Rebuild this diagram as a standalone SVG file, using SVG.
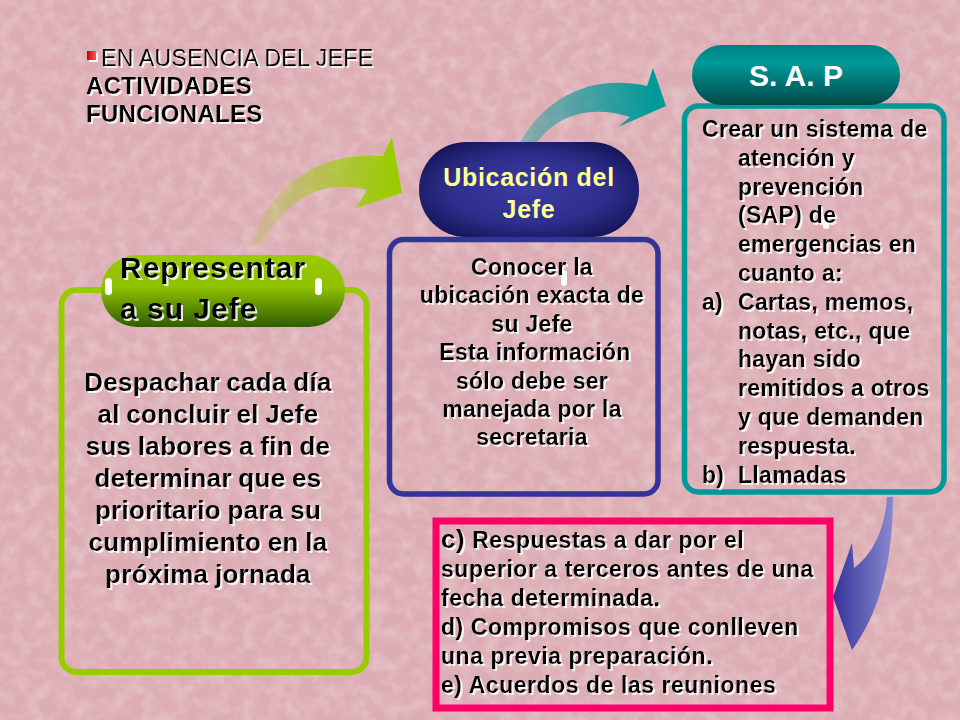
<svg xmlns="http://www.w3.org/2000/svg" width="960" height="720" viewBox="0 0 960 720">
<defs>
  <filter id="tex" x="0" y="0" width="100%" height="100%">
    <feTurbulence type="fractalNoise" baseFrequency="0.07" numOctaves="4" seed="7" result="n"/>
    <feColorMatrix in="n" type="matrix" values="0 0 0 0 1  0 0 0 0 0.95  0 0 0 0 0.96  1.4 0 0 0 -0.55"/>
  </filter>
  <filter id="sh" x="-5%" y="-10%" width="115%" height="130%">
    <feOffset in="SourceAlpha" dx="1.5" dy="1.5" result="o"/>
    <feFlood flood-color="#ffffff" flood-opacity="0.85"/>
    <feComposite in2="o" operator="in" result="s"/>
    <feMerge><feMergeNode in="s"/><feMergeNode in="SourceGraphic"/></feMerge>
  </filter>
  <linearGradient id="gPill" x1="0" y1="0" x2="0" y2="1">
    <stop offset="0" stop-color="#99cc00"/>
    <stop offset="0.45" stop-color="#8fc000"/>
    <stop offset="1" stop-color="#2f5c00"/>
  </linearGradient>
  <radialGradient id="nPill" cx="0.5" cy="0.5" r="0.6">
    <stop offset="0" stop-color="#3c3ca2"/>
    <stop offset="0.6" stop-color="#2e2e8c"/>
    <stop offset="1" stop-color="#141458"/>
  </radialGradient>
  <linearGradient id="tPill" x1="0" y1="0" x2="0" y2="1">
    <stop offset="0" stop-color="#007f7f"/>
    <stop offset="0.3" stop-color="#009999"/>
    <stop offset="1" stop-color="#004848"/>
  </linearGradient>
  <linearGradient id="gArr" gradientUnits="userSpaceOnUse" x1="250" y1="0" x2="395" y2="0">
    <stop offset="0" stop-color="#99cc00" stop-opacity="0.1"/>
    <stop offset="1" stop-color="#99cc00" stop-opacity="1"/>
  </linearGradient>
  <linearGradient id="tArr" gradientUnits="userSpaceOnUse" x1="518" y1="0" x2="655" y2="0">
    <stop offset="0" stop-color="#009999" stop-opacity="0.35"/>
    <stop offset="1" stop-color="#009999" stop-opacity="1"/>
  </linearGradient>
  <linearGradient id="bArr" gradientUnits="userSpaceOnUse" x1="833" y1="0" x2="893" y2="0">
    <stop offset="0" stop-color="#333399"/>
    <stop offset="1" stop-color="#8a8ad0"/>
  </linearGradient>
  <linearGradient id="bul" x1="0" y1="0" x2="1" y2="0">
    <stop offset="0" stop-color="#cc0000"/>
    <stop offset="1" stop-color="#ff5555"/>
  </linearGradient>
  <style>
    .t{font-family:"Liberation Sans",Arial,sans-serif;font-weight:bold;fill:#000;}
    .b{font-size:23px;letter-spacing:0.3px;}
    .p{font-size:23px;letter-spacing:0.55px;}
    .l{font-size:26px;letter-spacing:0.3px;word-spacing:-1px;}
    .mid{text-anchor:middle;}
    .box{fill:none;}
    .dot{fill:#ffffff;}
  </style>
</defs>

<rect width="960" height="720" fill="#dcaeb4"/>
<rect width="960" height="720" filter="url(#tex)" opacity="0.4"/>

<g id="title" filter="url(#sh)">
  <rect x="87" y="51" width="9" height="9" fill="url(#bul)"/>
  <text x="101" y="66" font-family="Liberation Sans,Arial,sans-serif" font-size="23" letter-spacing="0.3">EN AUSENCIA DEL JEFE</text>
  <text class="t" x="86" y="94" font-size="24" letter-spacing="0.3">ACTIVIDADES</text>
  <text class="t" x="86" y="122" font-size="24" letter-spacing="0.3">FUNCIONALES</text>
</g>

<g id="connectors">
  <path d="M250,246 C266,196 310,150 383,156 L392,137 L402,193 L356,208 L367,190 C322,178 284,200 262,246 Z" fill="url(#gArr)"/>
  <path d="M518,146 C545,96 592,74 647,86 L653,68 L666,106 L618,127 L630,117 C590,104 553,116 535,146 Z" fill="url(#tArr)"/>
  <path d="M893,497 C893,560 880,612 852,650 L833,597 L852,543 L854,568 C872,555 885,530 887,497 Z" fill="url(#bArr)"/>
</g>

<g id="node-representar">
  <rect class="box" x="61.5" y="290" width="305" height="382" rx="15" stroke="#99cc00" stroke-width="6"/>
  <rect x="101" y="255" width="244" height="72" rx="36" fill="url(#gPill)"/>
  <rect class="dot" x="105" y="278" width="7" height="17" rx="3.5"/>
  <rect class="dot" x="315" y="278" width="7" height="17" rx="3.5"/>
  <g filter="url(#sh)">
    <text class="t" x="120" y="278" font-size="30" letter-spacing="1">Representar</text>
    <text class="t" x="120" y="319" font-size="30" letter-spacing="1">a su Jefe</text>
  </g>
  <g filter="url(#sh)">
    <text class="t l mid" x="208" y="391">Despachar cada día</text>
    <text class="t l mid" x="208" y="423">al concluir el Jefe</text>
    <text class="t l mid" x="208" y="455">sus labores a fin de</text>
    <text class="t l mid" x="208" y="487">determinar que es</text>
    <text class="t l mid" x="208" y="519">prioritario para su</text>
    <text class="t l mid" x="208" y="551">cumplimiento en la</text>
    <text class="t l mid" x="208" y="583">próxima jornada</text>
  </g>
</g>

<g id="node-ubicacion">
  <rect class="box" x="389.5" y="239.5" width="268.5" height="254.5" rx="14" stroke="#333399" stroke-width="5.5"/>
  <rect x="419" y="142" width="220" height="95" rx="47" fill="url(#nPill)"/>
  <text class="t mid" x="529" y="186" font-size="25" letter-spacing="0.7" style="fill:#ffff99">Ubicación del</text>
  <text class="t mid" x="529" y="218" font-size="25" letter-spacing="0.7" style="fill:#ffff99">Jefe</text>
  <rect class="dot" x="561" y="270" width="6" height="16" rx="3"/>
  <g filter="url(#sh)">
    <text class="t b mid" x="532" y="275">Conocer la</text>
    <text class="t b mid" x="532" y="303.4">ubicación exacta de</text>
    <text class="t b mid" x="532" y="331.8">su Jefe</text>
    <text class="t b mid" x="535" y="360.2">Esta información</text>
    <text class="t b mid" x="532" y="388.6">sólo debe ser</text>
    <text class="t b mid" x="532" y="417">manejada por la</text>
    <text class="t b mid" x="532" y="445.4">secretaria</text>
  </g>
</g>

<g id="node-sap">
  <rect class="box" x="684.5" y="106" width="259.5" height="386" rx="14" stroke="#009999" stroke-width="5.5"/>
  <rect x="692" y="45" width="208" height="60" rx="30" fill="url(#tPill)"/>
  <text class="t mid" x="796" y="86" font-size="30" style="fill:#ffffff">S. A. P</text>
  <rect class="dot" x="823" y="215" width="6" height="14" rx="3"/>
  <g filter="url(#sh)">
    <text class="t b" x="702" y="137">Crear un sistema de</text>
    <text class="t b" x="738" y="165.8">atención  y</text>
    <text class="t b" x="738" y="194.6">prevención</text>
    <text class="t b" x="738" y="223.4">(SAP) de</text>
    <text class="t b" x="738" y="252.2">emergencias en</text>
    <text class="t b" x="738" y="281">cuanto a:</text>
    <text class="t b" x="702" y="309.8">a)</text>
    <text class="t b" x="738" y="309.8">Cartas, memos,</text>
    <text class="t b" x="738" y="338.6">notas, etc., que</text>
    <text class="t b" x="738" y="367.4">hayan sido</text>
    <text class="t b" x="738" y="396.2">remitidos a otros</text>
    <text class="t b" x="738" y="425">y que demanden</text>
    <text class="t b" x="738" y="453.8">respuesta.</text>
    <text class="t b" x="702" y="482.6">b)</text>
    <text class="t b" x="738" y="482.6">Llamadas</text>
  </g>
</g>

<g id="node-continuacion">
  <rect class="box" x="436" y="521" width="394" height="187" stroke="#ff0066" stroke-width="7"/>
  <g filter="url(#sh)">
    <text class="t p" x="441" y="548"><tspan font-size="26">c)</tspan> Respuestas a dar por el</text>
    <text class="t p" x="441" y="577">superior a terceros antes de una</text>
    <text class="t p" x="441" y="606">fecha determinada.</text>
    <text class="t p" x="441" y="635">d) Compromisos que conlleven</text>
    <text class="t p" x="441" y="664">una previa preparación.</text>
    <text class="t p" x="441" y="693">e) Acuerdos de las reuniones</text>
  </g>
</g>
</svg>
